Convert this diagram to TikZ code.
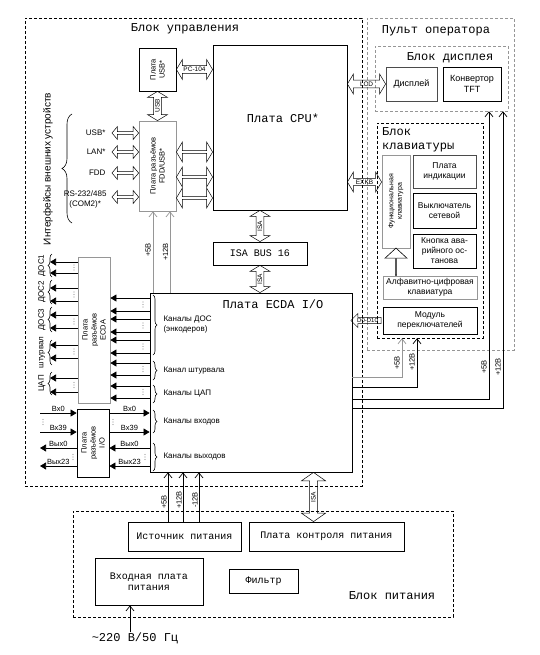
\documentclass[tikz,border=0pt]{standalone}
\usepackage{fontspec}
\setmainfont{Liberation Mono}
\newfontfamily\arialfont{Liberation Sans}
\usetikzlibrary{arrows.meta,shapes.arrows,decorations.pathreplacing,calc}
\definecolor{G}{RGB}{150,150,150}
\newcommand{\busline}[4][]{\path let \p1=(#2), \p2=(#3), \n1={veclen(\x2-\x1,\y2-\y1)} in (\p1) -- (\p2) node[midway, sloped, busarr, minimum height=\n1, #1] {#4};}
\newcommand{\vdts}[2]{\foreach \d in {-2.5,0,2.5} {\fill[G] (#1,{#2+\d}) circle (0.55pt);}}
\tikzset{
  sans/.style 2 args={font=\arialfont\fontsize{#1}{#2}\selectfont},
  ttl/.style={font=\fontsize{12}{14}\selectfont, inner sep=0pt},
  mono/.style={font=\fontsize{10}{11}\selectfont},
  box/.style={draw, line width=0.8pt, inner sep=1pt, align=center},
  gbox/.style={box, draw=G},
  frame/.style={draw, dash pattern=on 3pt off 2pt, line width=0.6pt, inner sep=0pt},
  gframe/.style={frame, draw=G},
  vtx/.style={sans={7.5}{9}, rotate=90, align=center, inner sep=0pt},
  busarr/.style={double arrow, draw, line width=0.5pt, inner sep=0.5pt, double arrow head extend=5pt, double arrow tip angle=118, minimum width=20pt, sans={6.5}{7}},
  farr/.style={-{Triangle[length=6pt,width=7pt]}, line width=0.7pt},
  pw/.style={-{Straight Barb[length=5pt,width=8pt]}, line width=0.7pt},
  plbl/.style={sans={7.5}{9}, rotate=90, inner sep=0pt},
  brc/.style={decorate, decoration={brace, amplitude=#1}, line width=0.6pt},
}
\begin{document}
\begin{tikzpicture}[x=1pt,y=-1pt]
\useasboundingbox (0,0) rectangle (539,655);
\node[frame, minimum width=337pt, minimum height=468pt] (ctl) at (193.5,252) {};
\node[gframe, minimum width=147pt, minimum height=332pt] (pult) at (440.5,184) {};
\node[gframe, minimum width=133pt, minimum height=65pt] (dispf) at (441.5,78.5) {};
\node[frame, minimum width=106pt, minimum height=215pt] (kbd) at (430,230.5) {};
\node[frame, minimum width=380pt, minimum height=106pt] (pwr) at (263,564) {};
\node[ttl] (ctlt) at (185,29) {Блок управления};
\node[ttl] (pultt) at (436,31) {Пульт оператора};
\node[ttl] (dispt) at (450,58) {Блок дисплея};
\node[ttl, anchor=west, align=left] (kbdt) at (382,140) {Блок\\клавиатуры};
\node[ttl] (pwrt) at (392,596) {Блок питания};

\node[box, minimum width=134pt, minimum height=165pt] (cpu) at (280,127.5) {};
\node[ttl] (cpul) at (283,118) {Плата CPU*};
\node[box, minimum width=37pt, minimum height=43pt] (usbb) at (157.5,69.5) {};
\node[vtx] (usbbl) at (usbb) {Плата\\USB*};
\node[gbox, minimum width=37pt, minimum height=90pt] (fdd) at (157.5,166) {};
\node[vtx] (fddl) at (fdd) {Плата разъёмов\\FDD/USB*};
\node[box, mono, minimum width=94pt, minimum height=23pt] (isab) at (260,253.5) {ISA BUS 16};
\node[box, minimum width=202pt, minimum height=179pt] (ecda) at (251,382.5) {};
\node[ttl] (ecdal) at (273,304) {Плата ECDA I/O};
\node[gbox, minimum width=32pt, minimum height=146pt] (conn) at (94,330) {};
\node[vtx] (connl) at (conn) {Плата\\разъёмов\\ECDA};
\node[box, minimum width=32pt, minimum height=68pt] (io) at (93,443) {};
\node[vtx] (iol) at (io) {Плата\\разъёмов\\I/O};

\node[box, draw=G!50!black, sans={9}{11}, minimum width=51pt, minimum height=34pt] (disp) at (411.5,84) {Дисплей};
\node[box, sans={9}{11}, minimum width=58pt, minimum height=34pt] (tft) at (472,84) {Конвертор\\TFT};
\node[gbox, minimum width=28pt, minimum height=93pt] (fkb) at (396,201.5) {};
\node[vtx, sans={7}{8.5}] (fkbl) at (fkb) {Функциональная\\клавиатура};
\node[box, draw=G!50!black, sans={8.5}{10}, minimum width=63pt, minimum height=33pt] (ind) at (444.5,171.5) {Плата\\индикации};
\node[box, sans={8.5}{10}, minimum width=63pt, minimum height=35pt] (sw) at (444.5,210.5) {Выключатель\\сетевой};
\node[box, sans={8.5}{10}, minimum width=63pt, minimum height=34pt] (estop) at (444.5,251) {Кнопка ава-\\рийного ос-\\танова};
\node[gbox, sans={8.5}{10}, minimum width=94pt, minimum height=23pt] (alpha) at (430,287.5) {Алфавитно-цифровая\\клавиатура};
\node[box, sans={8.5}{10}, minimum width=94pt, minimum height=27pt] (mod) at (430,320.5) {Модуль\\переключателей};

\node[box, mono, minimum width=113pt, minimum height=29pt] (psu) at (184.5,536.5) {Источник питания};
\node[box, mono, minimum width=155pt, minimum height=29pt] (pctl) at (326.5,536.5) {Плата контроля питания};
\node[box, mono, minimum width=108pt, minimum height=47pt] (inp) at (149,581.5) {Входная плата\\питания};
\node[box, mono, minimum width=69pt, minimum height=24pt] (flt) at (263.5,581) {Фильтр};
\node[ttl] (acin) at (135,638) {\textasciitilde220 В/50 Гц};
\draw[pw] (acin.north -| 130,0) -- (inp.south -| 130,0);

\busline[name=pc104]{usbb.east}{cpu.west |- usbb.east}{PC-104}
\busline[name=usbbus]{fdd.north}{usbb.south}{USB}
\foreach \yy in {152,177,198} {\busline{fdd.east |- 0,\yy}{cpu.west |- 0,\yy}{}}
\busline[name=lcd]{cpu.east |- disp.west}{disp.west}{LCD}
\busline[name=exkb]{cpu.east |- 0,182}{fkb.west |- 0,182}{EXKB}
\busline[name=isa1]{isab.north}{isab.north |- cpu.south}{ISA}
\busline[name=isa2]{isab.south |- ecda.north}{isab.south}{ISA}
\coordinate (isap) at ([xshift=-13pt]pctl.north);
\busline[name=isa3, minimum width=24pt, double arrow head extend=6.5pt, double arrow tip angle=110]{isap}{isap |- ecda.south}{ISA}
\path let \p1=(mod.west), \p2=(ecda.east |- mod.west), \n1={veclen(\x2-\x1,\y2-\y1)} in (\p1) -- (\p2) node[midway, single arrow, draw, line width=0.5pt, shape border rotate=180, minimum height=\n1, minimum width=14pt, single arrow head extend=3.5pt, inner sep=0.3pt, sans={6}{7}] (dbus) {D0-D10};
\path let \p1=(fkb.south |- alpha.north), \p2=(fkb.south), \n1={veclen(\x2-\x1,\y2-\y1)} in (\p1) -- (\p2) node[midway, sloped, single arrow, draw, line width=0.6pt, minimum height=\n1, minimum width=22pt, single arrow head extend=4.5pt, single arrow tip angle=95, inner sep=0pt] (kbup) {};

\coordinate (ifx) at (112,0);
\foreach \yy/\txt in {133/USB*,152/LAN*,173/FDD} {
  \busline[minimum width=13pt, double arrow head extend=3pt, double arrow tip angle=100]{ifx |- 0,\yy}{fdd.west |- 0,\yy}{}
  \node[sans={8}{9}, anchor=east] (if\yy) at (109,\yy) {\txt};
}
\busline[minimum width=13pt, double arrow head extend=3pt, double arrow tip angle=100]{ifx |- 0,197}{fdd.west |- 0,197}{}
\node[sans={8}{10}, anchor=east, align=center] (if197) at (110,199) {RS-232/485\\(COM2)*};
\draw[brc=10pt] (72,223) -- (72,114);
\node[sans={10}{12}, rotate=90] (ifl) at (48,169) {Интерфейсы внешних устройств};

\draw[pw, G] (ecda.north -| 153,0) -- (fdd.south -| 153,0);
\draw[pw, G] (ecda.north -| 170,0) -- (fdd.south -| 170,0);
\node[plbl] (p1) at (148,250) {+5В};
\node[plbl] (p2) at (165.5,252) {+12В};
\foreach \xx in {168,183,199} {\draw[pw] (psu.north -| \xx,0) -- (ecda.south -| \xx,0);}
\node[plbl] (p3) at (164,502) {+5В};
\node[plbl] (p4) at (179,500) {+12В};
\node[plbl] (p5) at (195,500) {-12В};
\draw[pw, G] (ecda.east |- 0,377) -| (kbd.south -| 402,0);
\draw[pw] (ecda.east |- 0,387) -| (kbd.south -| 417,0);
\draw[pw] (ecda.east |- 0,399) -| (dispf.south -| 489,0);
\draw[pw] (ecda.east |- 0,408) -| (dispf.south -| 503,0);
\node[plbl] (p6) at (397,363) {+5В};
\node[plbl] (p7) at (412,362) {+12В};
\node[plbl] (p8) at (484,367) {+5В};
\node[plbl] (p9) at (498,367) {+12В};

\foreach \yy in {298,311,319,332,340,353,363,375,386,398} {\draw[farr] (ecda.west |- 0,\yy) -- (conn.east |- 0,\yy);}
\coordinate (dosx) at (50,0);
\foreach \yy in {262,273,288,301,315,328,345,358,378,392} {\draw[farr] (conn.west |- 0,\yy) -- (dosx |- 0,\yy);}
\foreach \yy in {304.5,325.5,346.5,369,392} {\vdts{143}{\yy}}
\foreach \yy in {267.5,294.5,321.5,351.5,385} {\vdts{74}{\yy}}
\foreach \ya/\yb/\txt in {254/277/ДОС1, 280/304/ДОС2, 307/332/ДОС3, 340/365/штурвал, 372/395/ЦАП} {
  \draw[brc=4pt] (52,\yb) -- (52,\ya);
  \node[sans={8}{9}, rotate=90] (ext\ya) at (42,{(\ya+\yb)/2}) {\txt};
}
\foreach \ya/\yb/\txt in {295/355/{Каналы ДОС\\(энкодеров)}, 361/380/Канал штурвала, 385/403/Каналы ЦАП, 410/433/Каналы входов, 443/471/Каналы выходов} {
  \draw[brc=4pt] (153,\ya) -- (153,\yb);
  \node[sans={8}{10}, anchor=west, align=left] (ch\ya) at (160,{(\ya+\yb)/2}) {\txt};
}

\coordinate (iox) at (40,0);
\foreach \yy/\txt in {413/Вх0, 432/Вх39} {
  \draw[farr] (iox |- 0,\yy) -- (io.west |- 0,\yy) node[midway, above, sans={7.5}{9}, inner sep=1pt] {\txt};
  \draw[farr] (io.east |- 0,\yy) -- (ecda.west |- 0,\yy) node[midway, above, sans={7.5}{9}, inner sep=1pt] {\txt};
}
\foreach \yy/\txt in {448/Вых0, 466/Вых23} {
  \draw[farr] (io.west |- 0,\yy) -- (iox |- 0,\yy) node[midway, above, sans={7.5}{9}, inner sep=1pt] {\txt};
  \draw[farr] (ecda.west |- 0,\yy) -- (io.east |- 0,\yy) node[midway, above, sans={7.5}{9}, inner sep=1pt] {\txt};
}
\vdts{43}{422}
\vdts{113}{422}
\vdts{73}{457}
\vdts{145}{457}
\end{tikzpicture}
\end{document}
